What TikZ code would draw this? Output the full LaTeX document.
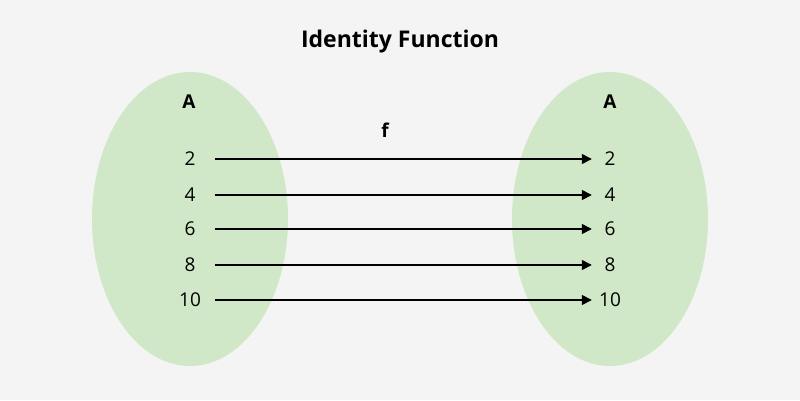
\documentclass[tikz,border=0pt]{standalone}
\usepackage{fontspec}
\setmainfont{Open Sans}
\usetikzlibrary{arrows.meta, shapes.geometric}
\definecolor{bgcol}{HTML}{F4F4F4}
\definecolor{setcol}{HTML}{D0E8C8}
\begin{document}
\begin{tikzpicture}[
	x=1pt, y=1pt,
	set/.style = {ellipse, fill=setcol, minimum width=196pt, minimum height=294pt, inner sep=0pt},
	every node/.append style = {font=\fontsize{19}{22}\selectfont},
	lnum/.style = {minimum width=50pt, inner sep=0pt},
	rnum/.style = {minimum width=36pt, inner sep=0pt},
	map/.style = {line width=1.5pt, -{Triangle[length=10pt,width=10pt]}}
]
\fill[bgcol] (0,0) rectangle (800,400);
\useasboundingbox (0,0) rectangle (800,400);

\node[set] (dom) at (190,181) {};
\node[set] (cod) at (610,181) {};

\node[font=\fontsize{23}{27}\selectfont\bfseries] (title) at (400,358) {Identity Function};
\node[font=\fontsize{19}{22}\selectfont\bfseries] (da) at (189,298) {A};
\node[font=\fontsize{19}{22}\selectfont\bfseries] (ca) at (610,298) {A};
\node[font=\fontsize{19}{22}\selectfont\bfseries] (f) at (385,270) {f};

\foreach \n/\y in {2/241, 4/205, 6/171, 8/135, 10/100} {
	\node[lnum] (l\n) at (190,\y) {\n};
	\node[rnum] (r\n) at (610,\y) {\n};
	\draw[map] (l\n.east) -- (r\n.west);
}

\end{tikzpicture}
\end{document}
